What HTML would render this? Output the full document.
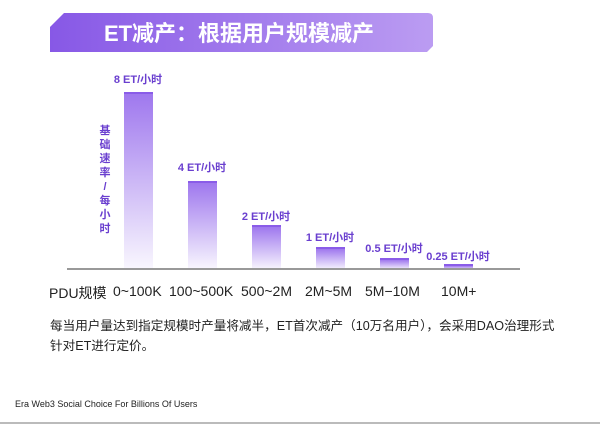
<!DOCTYPE html>
<html><head><meta charset="utf-8"><style>
body{margin:0;width:600px;height:424px;background:#fff;position:relative;overflow:hidden;font-family:"Liberation Sans","Noto Sans CJK SC",sans-serif}
.a{position:absolute}
.bar{position:absolute;width:29px;background:linear-gradient(#9f78ee,rgba(200,180,245,0.1));border-top:2px solid #8a5ce8}
.lbl{position:absolute;font-size:11px;font-weight:bold;color:#6a3fcf;white-space:nowrap;transform:translateX(-50%)}
.xl{position:absolute;top:283px;font-size:14px;color:#222;white-space:nowrap}
</style></head><body>
<svg class="a" style="left:0;top:0" width="600" height="60">
<defs><linearGradient id="g" x1="0" x2="1"><stop offset="0" stop-color="#8758e6"/><stop offset="1" stop-color="#bb9cf2"/></linearGradient></defs>
<path d="M64,13 L428,13 Q433,13 433,18 L433,46 L427,52 L50,52 L50,27 Z" fill="url(#g)"/>
<text x="239" y="41" text-anchor="middle" font-size="22" font-weight="bold" fill="#fff" font-family="Liberation Sans,Noto Sans CJK SC,sans-serif">ET减产：根据用户规模减产</text>
</svg>
<div class="bar" style="left:124px;top:92px;height:176px"></div>
<div class="bar" style="left:188px;top:181px;height:87px"></div>
<div class="bar" style="left:252px;top:225px;height:43px"></div>
<div class="bar" style="left:316px;top:247px;height:21px"></div>
<div class="bar" style="left:380px;top:258px;height:10px"></div>
<div class="bar" style="left:444px;top:264px;height:4px"></div>
<div class="lbl" style="left:138px;top:71px">8 ET/小时</div>
<div class="lbl" style="left:202px;top:159px">4 ET/小时</div>
<div class="lbl" style="left:266px;top:208px">2 ET/小时</div>
<div class="lbl" style="left:330px;top:229px">1 ET/小时</div>
<div class="lbl" style="left:394px;top:240px">0.5 ET/小时</div>
<div class="lbl" style="left:458px;top:248px">0.25 ET/小时</div>
<div class="a" style="left:99px;top:124px;width:12px;font-size:11px;font-weight:bold;line-height:14px;color:#6a3fcf;text-align:center">基<br>础<br>速<br>率<br>/<br>每<br>小<br>时</div>
<div class="a" style="left:67px;top:268px;width:453px;height:2px;background:#999"></div>
<div class="xl" style="left:49px">PDU规模</div>
<div class="xl" style="left:113px">0~100K</div>
<div class="xl" style="left:169px">100~500K</div>
<div class="xl" style="left:241px">500~2M</div>
<div class="xl" style="left:305px">2M~5M</div>
<div class="xl" style="left:365px">5M−10M</div>
<div class="xl" style="left:441px">10M+</div>
<div class="a" style="left:50px;top:316px;font-size:12.6px;line-height:20px;color:#222">每当用户量达到指定规模时产量将减半，ET首次减产（10万名用户），会采用DAO治理形式<br>针对ET进行定价。</div>
<div class="a" style="left:15px;top:399px;font-size:9px;color:#222">Era Web3 Social Choice For Billions Of Users</div>
<div class="a" style="left:0;top:422px;width:600px;height:2px;background:#bbb"></div>
</body></html>
